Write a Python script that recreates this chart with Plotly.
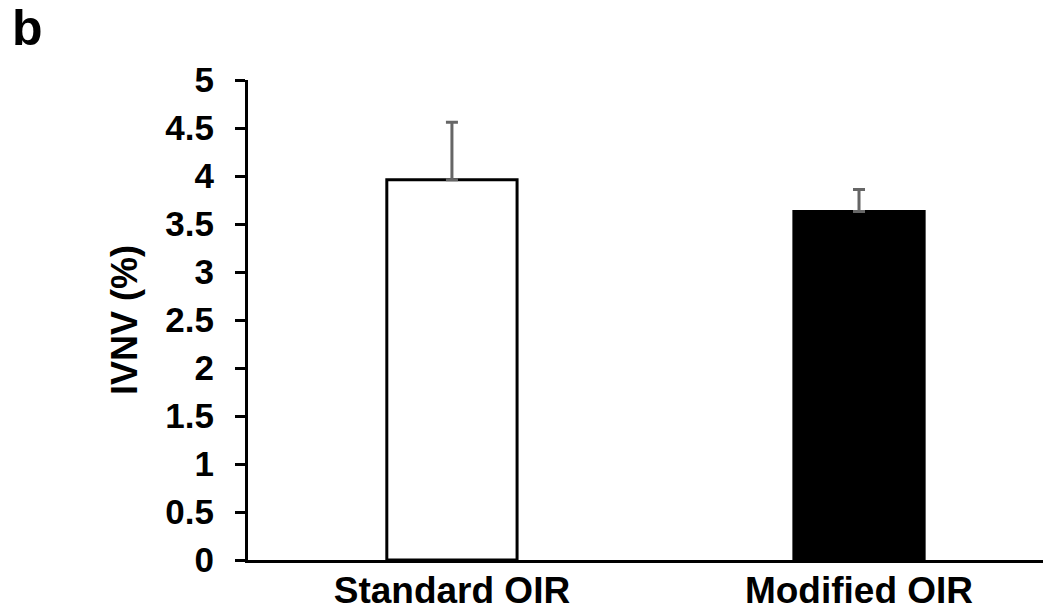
import plotly.graph_objects as go

categories = ["Standard OIR", "Modified OIR"]
means = [3.96, 3.63]
errors = [0.60, 0.23]
fills = ["white", "black"]
y_ticks = [0, 0.5, 1, 1.5, 2, 2.5, 3, 3.5, 4, 4.5, 5]
y_tick_labels = ["0", "0.5", "1", "1.5", "2", "2.5", "3", "3.5", "4", "4.5", "5"]

FONT = "Liberation Sans, Arial, sans-serif"

fig = go.Figure()
fig.add_trace(go.Bar(
    x=[0, 1], y=means, width=0.32,
    marker=dict(color=fills, line=dict(color="black", width=3)),
    error_y=dict(type="data", array=errors, symmetric=False, arrayminus=[0, 0],
                 color="#666666", thickness=3, width=6),
))

fig.update_layout(
    width=1043, height=613,
    margin=dict(l=248, r=0, t=80, b=53),
    plot_bgcolor="white", paper_bgcolor="white",
    showlegend=False,
    font=dict(family=FONT, color="black"),
    xaxis=dict(range=[-0.501, 1.452], tickmode="array", tickvals=[0, 1],
               ticktext=[f"<b>{c}</b>" for c in categories], ticks="",
               showline=True, linecolor="black", linewidth=3, showgrid=False,
               zeroline=False, tickfont=dict(size=37, family=FONT),
               automargin=False, ticklabelstandoff=-4),
    yaxis=dict(range=[0, 5], tickmode="array", tickvals=y_ticks,
               ticktext=[f"<b>{t}</b>" for t in y_tick_labels],
               ticks="outside", ticklen=10, tickwidth=3, tickcolor="black",
               showline=True, linecolor="black", linewidth=3, showgrid=False,
               zeroline=False, tickfont=dict(size=35, family=FONT),
               ticklabelstandoff=14, automargin=False,
               title=dict(text="<b>IVNV (%)</b>", font=dict(size=36, family=FONT),
                          standoff=17)),
)

fig.add_annotation(text="<b>b</b>", xref="paper", yref="paper", x=-248/795, y=1 + 52/480,
                   xanchor="left", yanchor="middle", xshift=10, showarrow=False,
                   font=dict(size=50, family=FONT, color="black"))

fig.write_html("out.html", config={"displayModeBar": False},
               post_script="document.body.style.margin='0';document.body.style.overflow='hidden';")
